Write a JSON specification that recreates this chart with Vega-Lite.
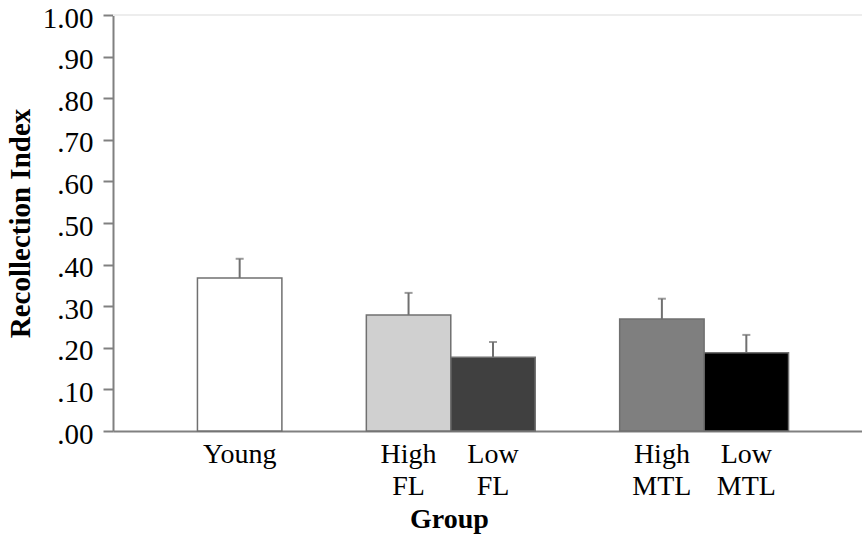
{
  "$schema": "https://vega.github.io/schema/vega-lite/v6.json",
  "width": 760,
  "height": 416,
  "autosize": {"type": "none"},
  "padding": {"left": 113, "top": 15, "right": 0, "bottom": 104},
  "background": "white",
  "config": {
    "view": {"stroke": null},
    "font": "Liberation Serif",
    "axisX": {
      "domainColor": "#808080",
      "domainWidth": 2,
      "ticks": false,
      "grid": false,
      "labelAngle": 0,
      "labelFontSize": 28,
      "labelLineHeight": 32,
      "labelBaseline": "alphabetic",
      "labelPadding": 31,
      "labelColor": "#000000",
      "titleFontSize": 28,
      "titleFontWeight": "bold",
      "titleColor": "#000000"
    },
    "axisY": {
      "domainColor": "#808080",
      "domainWidth": 2,
      "tickColor": "#808080",
      "tickWidth": 2,
      "tickSize": 10,
      "grid": false,
      "labelFontSize": 29,
      "labelPadding": 10,
      "labelOffset": 3,
      "labelColor": "#000000",
      "titleFontSize": 29,
      "titleFontWeight": "bold",
      "titleColor": "#000000",
      "titlePadding": 7
    }
  },
  "data": {
    "values": [
      {"group": "Young", "value": 0.368, "upper": 0.414},
      {"group": "High FL", "value": 0.279, "upper": 0.332},
      {"group": "Low FL", "value": 0.177, "upper": 0.214},
      {"group": "High MTL", "value": 0.269, "upper": 0.318},
      {"group": "Low MTL", "value": 0.188, "upper": 0.231}
    ]
  },
  "encoding": {
    "x": {
      "field": "group",
      "type": "nominal",
      "sort": null,
      "scale": {
        "domain": ["g0", "Young", "g1", "High FL", "Low FL", "g2", "High MTL", "Low MTL", "g3"],
        "paddingInner": 0,
        "paddingOuter": 0
      },
      "axis": {
        "title": "Group",
        "labelExpr": "indexof(datum.label, 'g') == 0 ? '' : split(datum.label, ' ')",
        "titleX": 336,
        "titleY": 96,
        "titleBaseline": "alphabetic"
      }
    }
  },
  "layer": [
    {
      "mark": {"type": "bar", "stroke": "#707070", "strokeWidth": 1.5},
      "encoding": {
        "y": {
          "field": "value",
          "type": "quantitative",
          "scale": {"domain": [0, 1]},
          "title": "Recollection Index",
          "axis": {
            "values": [0, 0.1, 0.2, 0.3, 0.4, 0.5, 0.6, 0.7, 0.8, 0.9, 1],
            "labelExpr": "replace(format(datum.value, '.2f'), '0.', '.')"
          }
        },
        "fill": {
          "field": "group",
          "type": "nominal",
          "scale": {
            "domain": ["Young", "High FL", "Low FL", "High MTL", "Low MTL"],
            "range": ["#ffffff", "#d0d0d0", "#404040", "#7f7f7f", "#000000"]
          },
          "legend": null
        }
      }
    },
    {
      "mark": {"type": "rule", "color": "#707070", "strokeWidth": 2},
      "encoding": {
        "y": {
          "field": "value",
          "type": "quantitative",
          "title": "Recollection Index",
          "axis": {
            "values": [0, 0.1, 0.2, 0.3, 0.4, 0.5, 0.6, 0.7, 0.8, 0.9, 1],
            "labelExpr": "replace(format(datum.value, '.2f'), '0.', '.')"
          }
        },
        "y2": {"field": "upper"}
      }
    },
    {
      "mark": {"type": "tick", "color": "#707070", "thickness": 2, "size": 8, "orient": "horizontal"},
      "encoding": {
        "y": {
          "field": "upper",
          "type": "quantitative",
          "title": "Recollection Index",
          "axis": {
            "values": [0, 0.1, 0.2, 0.3, 0.4, 0.5, 0.6, 0.7, 0.8, 0.9, 1],
            "labelExpr": "replace(format(datum.value, '.2f'), '0.', '.')"
          }
        }
      }
    },
    {
      "mark": {"type": "rule", "color": "#ececec", "strokeWidth": 1.5},
      "encoding": {
        "x": {"value": 0},
        "x2": {"value": 760},
        "y": {
          "datum": 1,
          "type": "quantitative",
          "title": "Recollection Index",
          "axis": {
            "values": [0, 0.1, 0.2, 0.3, 0.4, 0.5, 0.6, 0.7, 0.8, 0.9, 1],
            "labelExpr": "replace(format(datum.value, '.2f'), '0.', '.')"
          }
        }
      }
    }
  ]
}
